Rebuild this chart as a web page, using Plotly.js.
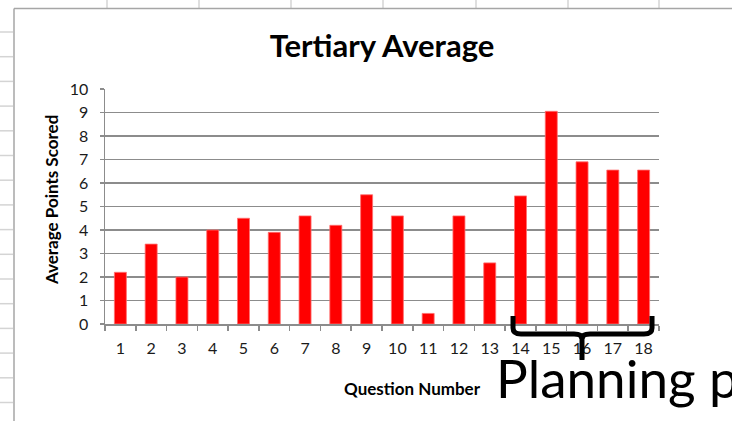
<!DOCTYPE html>
<html>
<head>
<meta charset="utf-8">
<script src="https://cdn.plot.ly/plotly-3.0.1.min.js"></script>
<style>
  body { margin: 0; background: #fff; }
  #chart { width: 732px; height: 421px; }
</style>
</head>
<body>
<div id="chart"></div>
<script>
const questions = ['1','2','3','4','5','6','7','8','9','10','11','12','13','14','15','16','17','18']
const avg_points = [2.2, 3.4, 2.0, 4.0, 4.5, 3.9, 4.6, 4.2, 5.5, 4.6, 0.45, 4.6, 2.6, 5.45, 9.05, 6.9, 6.55, 6.55]

// plot area in page pixels
const L = 105, R = 659, T = 89, B = 324
const px = x => (x - L) / (R - L)
const py = y => (B - y) / (B - T)

// spreadsheet cell lines around the chart object
let shapes = []
const grey = '#d4d4d4'
const colLines = [107, 199, 291, 383, 476, 568, 659]
colLines.forEach(x => {
  shapes.push({type: 'line', xref: 'paper', yref: 'paper', x0: px(x), x1: px(x), y0: py(0), y1: py(8), line: {color: grey, width: 1.5}})
})
for (let y = 32; y < 421; y += 24.7) {
  shapes.push({type: 'line', xref: 'paper', yref: 'paper', x0: px(0), x1: px(13), y0: py(y), y1: py(y), line: {color: grey, width: 1.5}})
}
// chart border
shapes.push({type: 'line', xref: 'paper', yref: 'paper', x0: px(14), x1: px(732), y0: py(8.5), y1: py(8.5), line: {color: '#a6a6a6', width: 1.5}})
shapes.push({type: 'line', xref: 'paper', yref: 'paper', x0: px(14), x1: px(14), y0: py(8.5), y1: py(421), line: {color: '#a6a6a6', width: 1.5}})

// hand drawn brace under questions 14-18
const P = (x, y) => px(x).toFixed(4) + ',' + py(y).toFixed(4)
shapes.push({
  type: 'path', xref: 'paper', yref: 'paper',
  path: 'M' + P(513, 316) + ' L' + P(513, 328) + ' Q' + P(513, 334) + ' ' + P(521, 334) +
        ' L' + P(574, 334) + ' Q' + P(582, 334) + ' ' + P(582, 339) +
        ' Q' + P(582, 334) + ' ' + P(590, 334) + ' L' + P(644, 334) +
        ' Q' + P(652, 334) + ' ' + P(652, 328) + ' L' + P(652, 316),
  line: {color: '#000', width: 5}
})
shapes.push({type: 'line', xref: 'paper', yref: 'paper', x0: px(582), x1: px(582), y0: py(336), y1: py(360), line: {color: '#000', width: 5}})

const data = [{
  x: questions,
  y: avg_points,
  type: 'bar',
  marker: {color: '#ff0000', line: {color: '#ff7070', width: 0.8}},
  hoverinfo: 'skip'
}]

const font = 'Lato, "Open Sans", sans-serif'
const layout = {
  width: 732,
  height: 421,
  margin: {l: L, r: 732 - R, t: T, b: 421 - B},
  paper_bgcolor: '#fff',
  plot_bgcolor: '#fff',
  showlegend: false,
  bargap: 0.61,
  font: {family: font, color: '#1a1a1a', size: 16},
  title: {
    text: '<b>Tertiary Average</b>',
    font: {family: font, size: 31, color: '#000'},
    x: 0.5, xref: 'paper', y: 1 - 46 / 421, yanchor: 'middle'
  },
  xaxis: {
    type: 'category',
    showgrid: false,
    showline: true, linecolor: '#8c8c8c', linewidth: 1.5,
    ticks: 'outside', tickson: 'boundaries', ticklen: 5, tickcolor: '#8c8c8c', tickwidth: 1.5,
    tickfont: {size: 16},
    ticklabelstandoff: 9,
    fixedrange: true
  },
  yaxis: {
    range: [0, 10],
    dtick: 1,
    showgrid: true, gridcolor: '#8c8c8c', gridwidth: 1.3,
    showline: true, linecolor: '#8c8c8c', linewidth: 1.5,
    ticks: 'outside', ticklen: 4, tickcolor: '#8c8c8c', tickwidth: 1.5,
    tickfont: {size: 16},
    ticklabelstandoff: 8,
    zeroline: false,
    fixedrange: true
  },
  shapes: shapes,
  annotations: [
    {text: '<b>Average Points Scored</b>', xref: 'paper', yref: 'paper', x: px(51), y: py(200),
     textangle: -90, showarrow: false, font: {size: 17, color: '#000'}, xanchor: 'center', yanchor: 'middle'},
    {text: '<b>Question Number</b>', xref: 'paper', yref: 'paper', x: px(412), y: py(388),
     showarrow: false, font: {size: 17, color: '#000'}, xanchor: 'center', yanchor: 'middle'},
    {text: 'Planning p', xref: 'paper', yref: 'paper', x: px(494), y: py(377),
     showarrow: false, font: {size: 53, color: '#000'}, xanchor: 'left', yanchor: 'middle'}
  ]
}

Plotly.newPlot('chart', data, layout, {displayModeBar: false, staticPlot: true})
</script>
</body>
</html>
